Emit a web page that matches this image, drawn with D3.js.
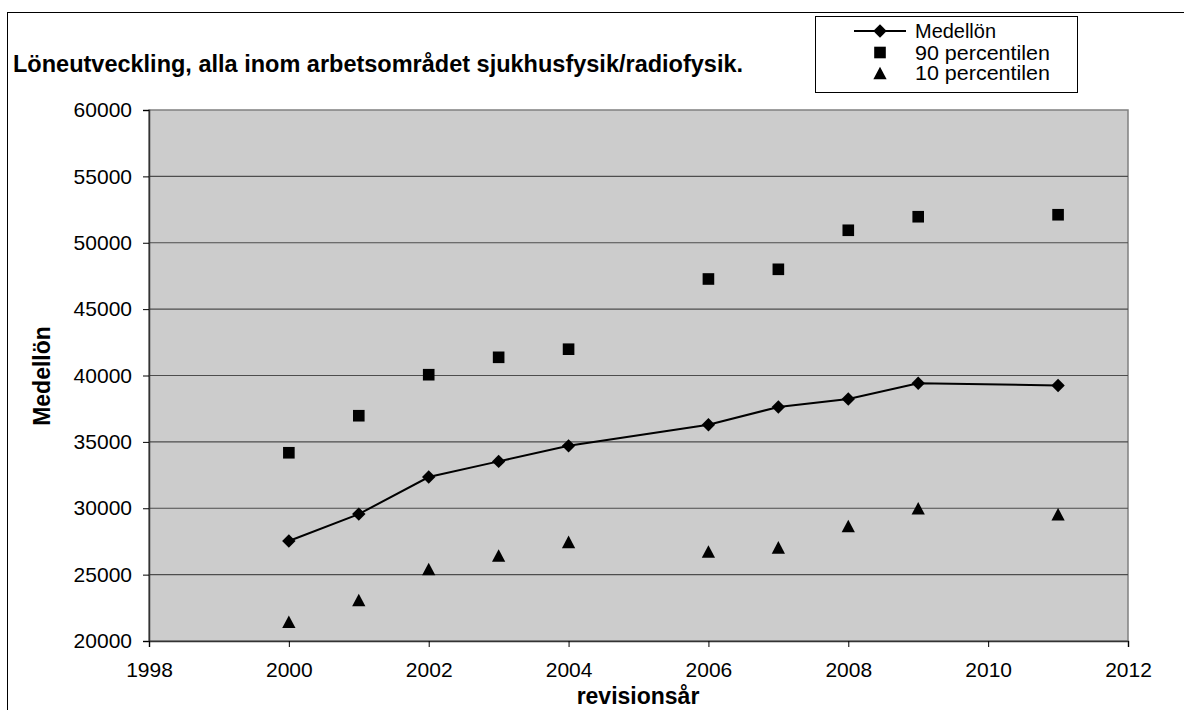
<!DOCTYPE html>
<html>
<head>
<meta charset="utf-8">
<script src="https://cdn.jsdelivr.net/npm/d3@7"></script>
<style>
  html, body { margin: 0; padding: 0; background: #fff; }
  svg { display: block; font-family: "Liberation Sans", Arial, sans-serif; }
</style>
</head>
<body>
<svg id="chart" width="1184" height="710"></svg>
<script>
// Survey years
const years = [2000, 2001, 2002, 2003, 2004, 2006, 2007, 2008, 2009, 2011];
// Average monthly salary
const medellon = [27530, 29560, 32350, 33530, 34700, 36290, 37630, 38230, 39410, 39250];
// 90th percentile
const p90 = [34180, 36970, 40060, 41370, 41980, 47270, 48000, 50940, 51960, 52110];
// 10th percentile
const p10 = [21450, 23090, 25420, 26440, 27470, 26740, 27050, 28660, 30000, 29550];

const xTicks = [1998, 2000, 2002, 2004, 2006, 2008, 2010, 2012];
const yTicks = [20000, 25000, 30000, 35000, 40000, 45000, 50000, 55000, 60000];

const title = "Löneutveckling, alla inom arbetsområdet sjukhusfysik/radiofysik.";
const legendLabels = ["Medellön", "90 percentilen", "10 percentilen"];

const FONT = "'Liberation Sans', Arial, sans-serif";
const svg = d3.select("#chart");
const plot = { left: 149, right: 1128, top: 110, bottom: 641 };

const x = d3.scaleLinear().domain([1998, 2012]).range([plot.left, plot.right]);
const y = d3.scaleLinear().domain([20000, 60000]).range([plot.bottom, plot.top]);

// Chart area frame
svg.append("rect")
  .attr("x", 7.5).attr("y", 12.5)
  .attr("width", 1200).attr("height", 800)
  .attr("fill", "#fff").attr("stroke", "#000").attr("stroke-width", 1);

// Plot background
svg.append("rect")
  .attr("x", plot.left).attr("y", plot.top)
  .attr("width", plot.right - plot.left).attr("height", plot.bottom - plot.top)
  .attr("fill", "#cccccc").attr("stroke", "#808080").attr("stroke-width", 1.5);

// Horizontal gridlines
svg.append("g").selectAll("line")
  .data(yTicks.filter(t => t > 20000 && t < 60000))
  .join("line")
  .attr("x1", plot.left).attr("x2", plot.right)
  .attr("y1", d => y(d)).attr("y2", d => y(d))
  .attr("stroke", "#4d4d4d").attr("stroke-width", 1.2);

// Y axis
const yAxis = svg.append("g")
  .attr("transform", `translate(${plot.left},0)`)
  .call(d3.axisLeft(y).tickValues(yTicks).tickFormat(d3.format("d")).tickSize(6).tickPadding(11));
yAxis.select(".domain").attr("stroke", "#333").attr("stroke-width", 1.5);
yAxis.selectAll(".tick line").attr("stroke", "#000");
yAxis.selectAll("text").attr("font-size", 21).attr("fill", "#000").attr("font-family", FONT);

// X axis
const xAxis = svg.append("g")
  .attr("transform", `translate(0,${plot.bottom})`)
  .call(d3.axisBottom(x).tickValues(xTicks).tickFormat(d3.format("d")).tickSize(6).tickPadding(15));
xAxis.select(".domain").attr("stroke", "#333").attr("stroke-width", 1.5);
xAxis.selectAll(".tick line").attr("stroke", "#000");
xAxis.selectAll("text").attr("font-size", 21).attr("fill", "#000").attr("font-family", FONT);

// Marker shapes, each centred on its bounding box
const diamond = d3.symbol().type(d3.symbolSquare).size(90)();
const square = d3.symbol().type(d3.symbolSquare).size(135)();
const triType = {
  draw(ctx, size) {
    const w = Math.sqrt(size * 2), h = w * 0.95;
    ctx.moveTo(0, -h / 2);
    ctx.lineTo(w / 2, h / 2);
    ctx.lineTo(-w / 2, h / 2);
    ctx.closePath();
  }
};
const triangle = d3.symbol().type(triType).size(88)();

// Average line
const pts = years.map((yr, i) => [yr, medellon[i]]);
svg.append("path")
  .datum(pts)
  .attr("fill", "none").attr("stroke", "#000").attr("stroke-width", 2)
  .attr("d", d3.line().x(d => x(d[0])).y(d => y(d[1])));

svg.append("g").selectAll("path")
  .data(pts).join("path")
  .attr("d", diamond)
  .attr("transform", d => `translate(${x(d[0])},${y(d[1])}) rotate(45)`)
  .attr("fill", "#000");

svg.append("g").selectAll("path")
  .data(years.map((yr, i) => [yr, p90[i]])).join("path")
  .attr("d", square)
  .attr("transform", d => `translate(${x(d[0])},${y(d[1])})`)
  .attr("fill", "#000");

svg.append("g").selectAll("path")
  .data(years.map((yr, i) => [yr, p10[i]])).join("path")
  .attr("d", triangle)
  .attr("transform", d => `translate(${x(d[0])},${y(d[1])})`)
  .attr("fill", "#000");

// Title
svg.append("text")
  .attr("x", 13).attr("y", 72)
  .attr("font-size", 23.5).attr("font-weight", "bold")
  .text(title);

// Axis titles
svg.append("text")
  .attr("transform", "translate(50,376) rotate(-90)")
  .attr("text-anchor", "middle")
  .attr("font-size", 23).attr("font-weight", "bold")
  .text("Medellön");

svg.append("text")
  .attr("x", 638).attr("y", 704)
  .attr("text-anchor", "middle")
  .attr("font-size", 23).attr("font-weight", "bold")
  .text("revisionsår");

// Legend
const lg = svg.append("g");
lg.append("rect")
  .attr("x", 815.5).attr("y", 16.5).attr("width", 262).attr("height", 76)
  .attr("fill", "#fff").attr("stroke", "#000").attr("stroke-width", 1);
const rows = [31, 52.5, 73];
const legendWidths = [81, 135, 135];
lg.append("line").attr("x1", 854).attr("x2", 906).attr("y1", rows[0]).attr("y2", rows[0])
  .attr("stroke", "#000").attr("stroke-width", 2);
lg.append("path").attr("d", diamond).attr("transform", `translate(880,${rows[0]}) rotate(45)`);
lg.append("path").attr("d", square).attr("transform", `translate(880,${rows[1]})`);
lg.append("path").attr("d", triangle).attr("transform", `translate(880,${rows[2]})`);
lg.selectAll("text.lbl").data(legendLabels).join("text")
  .attr("class", "lbl")
  .attr("x", 915).attr("y", (d, i) => rows[i] + 7)
  .attr("font-size", 19.5)
  .attr("textLength", (d, i) => legendWidths[i])
  .attr("lengthAdjust", "spacingAndGlyphs")
  .text(d => d);
</script>
</body>
</html>
